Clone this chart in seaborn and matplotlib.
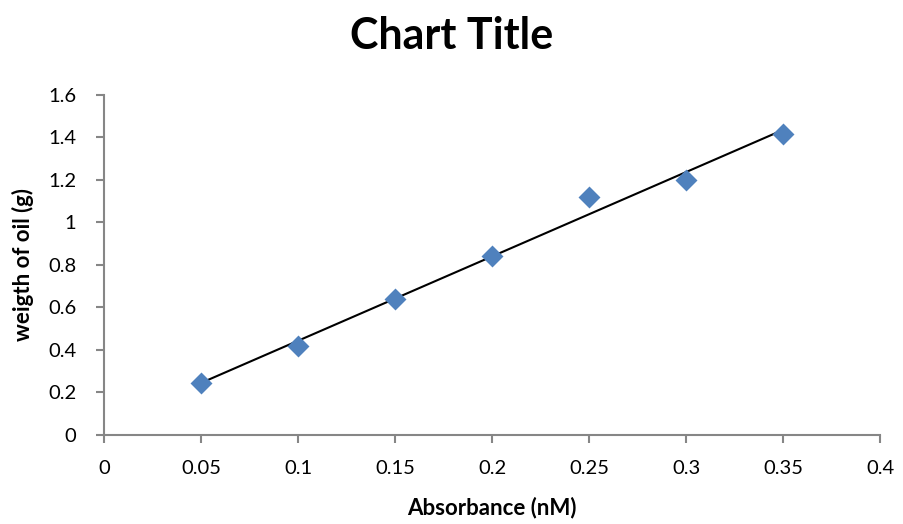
import matplotlib
matplotlib.use("Agg")
import matplotlib.pyplot as plt
from matplotlib.ticker import FuncFormatter, MultipleLocator
import seaborn as sns
import pandas as pd

# Calibration measurements
absorbance = [0.05, 0.10, 0.15, 0.20, 0.25, 0.30, 0.35]
oil_weight = [0.243, 0.42, 0.64, 0.84, 1.12, 1.20, 1.415]

title = "Chart Title"
x_label = "Absorbance (nM)"
y_label = "weigth of oil (g)"

df = pd.DataFrame({"absorbance": absorbance, "oil_weight": oil_weight})

sns.set_theme(style="white")
plt.rcParams["font.family"] = ["Lato", "DejaVu Sans"]
plt.rcParams["text.color"] = "black"
plt.rcParams["axes.labelcolor"] = "black"

fig = plt.figure(figsize=(9.04, 5.24), dpi=100)
ax = fig.add_axes([0.115, 0.170, 0.8585, 0.649])

# Linear trend line over the data range
sns.regplot(data=df, x="absorbance", y="oil_weight", ax=ax, scatter=False,
            ci=None, truncate=True, color="black", line_kws={"linewidth": 1.5})
sns.scatterplot(data=df, x="absorbance", y="oil_weight", ax=ax, marker="D",
                s=125, color="#4F81BD", edgecolor="#4F81BD", linewidth=0, zorder=3)

ax.set_xlim(0, 0.4)
ax.set_ylim(0, 1.6)
ax.xaxis.set_major_locator(MultipleLocator(0.05))
ax.yaxis.set_major_locator(MultipleLocator(0.2))
fmt = FuncFormatter(lambda v, _: f"{round(v, 4):g}")
ax.xaxis.set_major_formatter(fmt)
ax.yaxis.set_major_formatter(fmt)

for side in ("top", "right"):
    ax.spines[side].set_visible(False)
for side in ("left", "bottom"):
    ax.spines[side].set_color("#868686")
    ax.spines[side].set_linewidth(1.5)
ax.tick_params(axis="both", which="major", direction="out", length=6, width=1.5,
               color="#868686", labelsize=14.5, labelcolor="black")
ax.tick_params(axis="x", bottom=True, pad=12)
ax.tick_params(axis="y", left=True, pad=14)

ax.set_xlabel(x_label, fontsize=16, fontweight="bold", labelpad=14, color="black")
ax.set_ylabel(y_label, fontsize=16, fontweight="bold", labelpad=10, color="black")
fig.text(0.5, 0.932, title, ha="center", va="center", fontsize=31,
         fontweight="bold", color="black")

fig.savefig("out.png", dpi=100)
